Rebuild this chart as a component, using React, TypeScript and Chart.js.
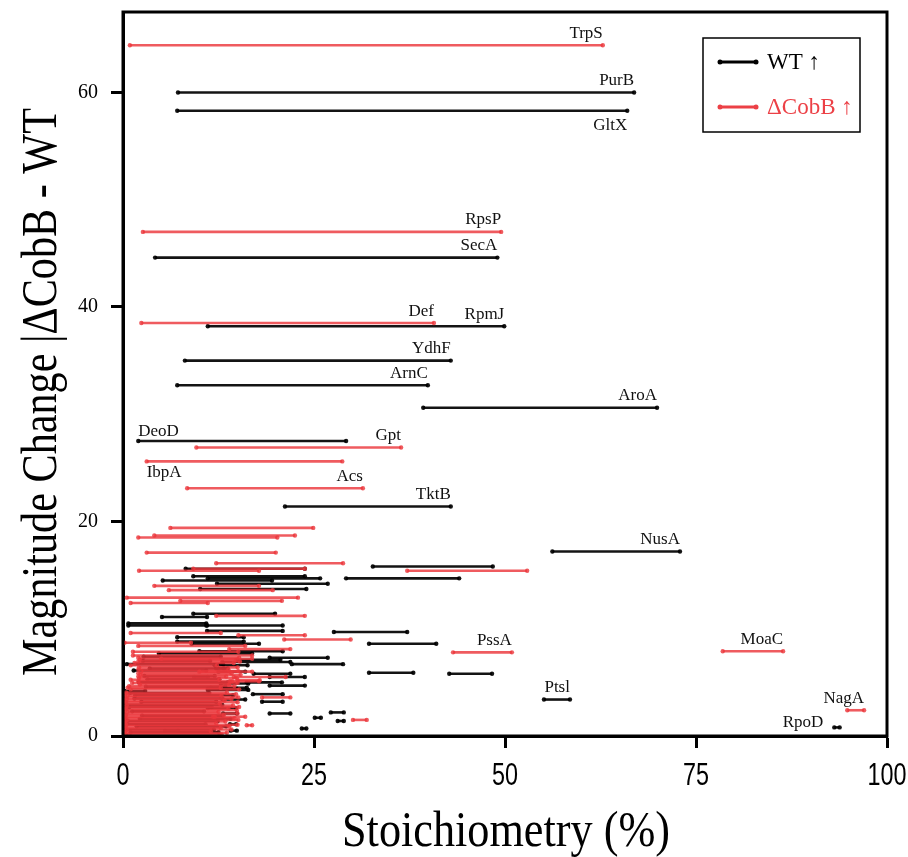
import React, { useEffect, useRef } from "react";
import { Chart, registerables } from "chart.js";

Chart.register(...registerables);

// WT ↑ segments (black): start %, end %, magnitude
const wtStart = [7.2, 7.1, 4.2, 11.1, 8.1, 7.1, 39.3, 2.0, 21.2, 56.2, 55.1, 93.1,
  8.2, 9.2, 11.1, 5.2, 12.3, 29.2, 32.7, 10.1, 9.2, 5.1, 0.7, 0.7, 11.0, 11.0, 27.6, 7.1, 7.1, 9.0,
  32.2, 10.0, 4.7, 19.2, 14.9, 22.1, 13.0, 42.7, 32.2, 17.1, 19.2, 16.2, 19.2, 11.1, 17.0, 18.2,
  19.2, 13.1, 27.2, 25.1, 28.1, 23.4, 0.2, 12.0, 9.3, 12.8, 11.1, 11.5, 13.1, 11.1, 5.5, 14.0, 14.1,
  12.2, 12.5, 1.0, 0.5, 2.5, 0.8, 1.5, 3.0, 2.8, 3.5, 2.6,
  0.4, 1.8, 0.6, 2.2, 1.2, 0.3, 2.4, 1.6, 0.9, 2.1, 3.2, 1.4, 0.5, 2.7];
const wtEnd = [66.9, 66.0, 49.0, 49.9, 42.9, 39.9, 69.9, 29.2, 42.9, 72.9, 58.5, 93.8,
  23.8, 23.8, 25.8, 19.5, 26.8, 44.0, 48.4, 24.0, 19.9, 11.0, 10.9, 10.9, 20.9, 20.9, 37.2, 15.8, 15.8, 17.8,
  41.0, 20.9, 16.9, 26.8, 20.6, 28.8, 21.9, 48.3, 38.0, 21.9, 23.8, 20.8, 23.8, 14.9, 20.9, 20.9,
  21.9, 14.9, 28.9, 25.9, 28.9, 24.0, 2.9, 16.3, 11.1, 16.4, 16.4, 16.2, 16.0, 14.8, 7.2, 14.8, 14.9,
  13.7, 16.0, 12.5, 10.8, 13.0, 11.6, 12.9, 13.4, 12.0, 13.2, 11.4,
  11.9, 13.5, 12.4, 14.1, 10.6, 13.0, 12.2, 14.4, 11.3, 13.7, 12.6, 10.9, 13.1, 12.8];
const wtValue = [60.0, 58.3, 44.6, 38.2, 35.0, 32.7, 30.6, 27.5, 21.4, 17.2, 3.4, 0.8,
  15.6, 14.9, 14.7, 14.5, 14.2, 14.7, 15.8, 13.7, 11.4, 11.1, 10.5, 10.3, 10.3, 9.8, 9.7, 9.2, 8.8, 8.6,
  8.6, 7.9, 7.7, 7.3, 7.1, 6.7, 6.9, 5.8, 5.9, 5.8, 5.5, 5.0, 4.7, 4.4, 3.9, 3.2,
  2.1, 2.1, 2.2, 1.7, 1.4, 0.7, 4.2, 6.6, 5.5, 4.9, 4.3, 4.5, 3.4, 2.6, 0.5, 1.1, 0.5,
  6.3, 6.0, 0.35, 1.1, 1.9, 2.7, 3.5, 4.6, 5.6, 6.3, 7.0,
  0.6, 0.9, 1.4, 1.6, 2.3, 2.9, 3.2, 3.8, 4.0, 5.0, 5.3, 6.1, 6.7, 7.4];
const wtNames = ["PurB", "GltX", "SecA", "RpmJ", "YdhF", "ArnC", "AroA", "DeoD", "TktB", "NusA", "Ptsl", "RpoD"];
const wtLabelPlace = ["above", "below", "above", "above", "above", "above", "above", "aboveLeft", "above", "above", "above", "left"];

// ΔCobB ↑ segments (red)
const koStart = [0.9, 2.6, 2.4, 9.6, 3.1, 8.4, 43.2, 78.5, 94.8,
  6.2, 4.1, 2.0, 3.1, 12.2, 9.2, 2.1, 37.2, 4.1, 6.0, 0.5, 7.5, 1.0, 12.2, 1.0, 15.1, 21.1, 0.2, 2.0,
  13.9, 1.3, 1.3, 1.0, 15.0, 14.5, 14.0, 18.2, 30.1, 12.0, 16.2, 10.0, 5.0,
  2.0, 2.2, 2.0, 1.5, 2.1, 2.0, 2.4, 2.0, 2.3, 2.0, 2.1, 1.0, 2.0, 1.2, 2.2, 0.8, 0.6, 1.0,
  0.4, 0.3, 0.6, 0.3, 0.5, 0.2, 0.4, 0.3, 0.5, 0.2, 0.4, 0.3, 0.6, 0.2, 0.4, 0.3, 0.2, 0.5,
  0.3, 0.2, 0.4, 0.3, 0.2, 0.5, 0.3, 0.2, 0.4];
const koEnd = [62.8, 49.5, 40.7, 36.4, 28.7, 31.4, 50.9, 86.4, 97.0,
  24.9, 22.5, 20.2, 20.0, 28.8, 23.8, 17.8, 52.9, 17.8, 19.6, 22.9, 20.8, 11.1, 23.8, 12.8, 23.8, 29.8, 8.9, 16.0,
  21.9, 15.1, 16.9, 12.3, 17.9, 21.3, 17.8, 21.9, 31.9, 16.0, 16.9, 16.9, 16.9,
  15.2, 14.8, 15.3, 14.5, 15.0, 13.8, 15.1, 14.2, 15.4, 13.5, 14.9, 12.6, 14.3, 15.0, 13.9, 14.6, 12.8, 15.2,
  13.6, 14.8, 12.9, 15.1, 14.2, 13.3, 15.0, 12.7, 14.4, 15.2, 13.8, 14.9, 12.5, 15.0, 13.2, 11.8, 14.6, 15.1,
  13.4, 12.2, 15.0, 13.9, 12.8, 14.2, 11.5, 13.6, 12.9];
const koValue = [64.4, 47.0, 38.5, 26.9, 25.6, 23.1, 7.8, 7.9, 2.4,
  19.4, 18.7, 18.5, 17.1, 16.1, 15.6, 15.4, 15.4, 14.0, 13.6, 12.9, 12.6, 12.4, 11.2, 9.6, 9.4, 9.0, 8.7, 8.4,
  8.1, 7.85, 7.5, 6.6, 5.2, 5.5, 5.1, 3.6, 1.5, 1.8, 1.0, 6.0, 7.2,
  7.3, 7.1, 6.95, 6.8, 6.4, 6.2, 6.05, 5.85, 5.7, 5.55, 5.4, 5.25, 5.1, 4.95, 4.8, 4.65, 4.5, 4.35,
  4.05, 3.9, 3.75, 3.6, 3.45, 3.3, 3.15, 3.0, 2.85, 2.7, 2.55, 2.4, 2.25, 2.1, 1.95, 1.8, 1.65, 1.5,
  1.35, 1.2, 1.05, 0.9, 0.75, 0.6, 0.45, 0.3, 0.15];
const koNames = ["TrpS", "RpsP", "Def", "Gpt", "IbpA", "Acs", "PssA", "MoaC", "NagA"];
const koLabelPlace = ["above", "above", "above", "above", "belowLeft", "above", "above", "above", "above"];

const xTicks = [0, 25, 50, 75, 100];
const yTicks = [0, 20, 40, 60];
const legendNames = ["WT \u2191", "\u0394CobB \u2191"];
const xTitle = "Stoichiometry (%)";
const yTitle = "Magnitude Change |\u0394CobB - WT";

const BLACK = "rgba(0,0,0,0.92)";
const RED = "rgba(235,55,60,0.82)";
const RED_TEXT = "rgb(236,64,70)";
const SERIF = "'Liberation Serif', 'Times New Roman', serif";
const SANS = "'Liberation Sans', Arial, sans-serif";

function seg(x1: number, x2: number, y: number, color: string) {
  return {
    data: [{ x: x1, y }, { x: x2, y }],
    showLine: true,
    borderColor: color,
    backgroundColor: color,
    borderWidth: 2.6,
    pointRadius: 2.2,
    pointBorderWidth: 0,
    pointHoverRadius: 2.2,
  };
}

const overlay = {
  id: "overlay",
  afterDraw(chart: any) {
    const { ctx, chartArea, scales } = chart;
    const { left, right, top, bottom } = chartArea;
    const xs = scales.x, ys = scales.y;
    ctx.save();
    ctx.strokeStyle = "#000";
    ctx.lineWidth = 3;
    ctx.strokeRect(left, top, right - left, bottom - top);

    // x tick labels (narrow sans)
    ctx.fillStyle = "#000";
    ctx.font = `32px ${SANS}`;
    ctx.textAlign = "center";
    ctx.textBaseline = "middle";
    xTicks.forEach((v) => {
      ctx.save();
      ctx.translate(xs.getPixelForValue(v), 776);
      ctx.scale(0.73, 1);
      ctx.fillText(String(v), 0, 0);
      ctx.restore();
    });

    ctx.font = `17px ${SERIF}`;
    ctx.fillStyle = "#111";
    const drawLabel = (name: string, place: string, x1: number, x2: number, y: number) => {
      const px1 = xs.getPixelForValue(x1);
      const px2 = xs.getPixelForValue(x2);
      const py = ys.getPixelForValue(y);
      ctx.textBaseline = "middle";
      if (place === "above") { ctx.textAlign = "right"; ctx.fillText(name, px2, py - 12); }
      else if (place === "below") { ctx.textAlign = "right"; ctx.fillText(name, px2, py + 15); }
      else if (place === "aboveLeft") { ctx.textAlign = "left"; ctx.fillText(name, px1, py - 10); }
      else if (place === "belowLeft") { ctx.textAlign = "left"; ctx.fillText(name, px1, py + 11); }
      else if (place === "left") { ctx.textAlign = "right"; ctx.fillText(name, px1 - 11, py - 5); }
    };
    wtNames.forEach((n, i) => drawLabel(n, wtLabelPlace[i], wtStart[i], wtEnd[i], wtValue[i]));
    koNames.forEach((n, i) => drawLabel(n, koLabelPlace[i], koStart[i], koEnd[i], koValue[i]));

    // legend
    ctx.lineWidth = 1.5;
    ctx.strokeStyle = "#000";
    ctx.strokeRect(703, 38, 157, 94);
    const items = [{ c: "#000", y: 62 }, { c: RED_TEXT, y: 107 }];
    items.forEach((it, i) => {
      ctx.strokeStyle = it.c;
      ctx.fillStyle = it.c;
      ctx.lineWidth = 3;
      ctx.beginPath(); ctx.moveTo(720, it.y); ctx.lineTo(756, it.y); ctx.stroke();
      ctx.beginPath(); ctx.arc(720, it.y, 2.5, 0, Math.PI * 2); ctx.fill();
      ctx.beginPath(); ctx.arc(756, it.y, 2.5, 0, Math.PI * 2); ctx.fill();
      ctx.font = `23px ${SERIF}`;
      ctx.textAlign = "left";
      ctx.textBaseline = "alphabetic";
      ctx.fillText(legendNames[i], 767, it.y + 7);
    });

    // axis titles (condensed serif)
    ctx.fillStyle = "#000";
    ctx.font = `50px ${SERIF}`;
    ctx.textAlign = "center";
    ctx.textBaseline = "alphabetic";
    let w = ctx.measureText(xTitle).width;
    ctx.save();
    ctx.translate(506, 846);
    ctx.scale(328 / w, 1);
    ctx.fillText(xTitle, 0, 0);
    ctx.restore();
    w = ctx.measureText(yTitle).width;
    ctx.save();
    ctx.translate(56, 392);
    ctx.rotate(-Math.PI / 2);
    ctx.scale(568 / w, 1);
    ctx.fillText(yTitle, 0, 0);
    ctx.restore();
    ctx.restore();
  },
};

export default function App() {
  const ref = useRef<HTMLCanvasElement | null>(null);
  useEffect(() => {
    document.body.style.margin = "0";
    const datasets: any[] = [];
    koStart.forEach((s, i) => datasets.push(seg(s, koEnd[i], koValue[i], RED)));
    wtStart.forEach((s, i) => datasets.push(seg(s, wtEnd[i], wtValue[i], BLACK)));
    const zeroPad = (s: any) => { s.paddingTop = 0; s.paddingBottom = 0; s.paddingLeft = 0; s.paddingRight = 0; };
    const chart = new Chart(ref.current as HTMLCanvasElement, {
      type: "scatter",
      data: { datasets },
      options: {
        animation: false,
        responsive: false,
        devicePixelRatio: 1,
        events: [],
        layout: { padding: { top: 12, right: 21, left: 0, bottom: 0 } },
        plugins: { legend: { display: false }, tooltip: { enabled: false } },
        scales: {
          x: {
            type: "linear",
            min: 0,
            max: 100,
            afterBuildTicks: (s: any) => { s.ticks = xTicks.map((v) => ({ value: v })); },
            afterFit: (s: any) => { s.height = 121; zeroPad(s); },
            ticks: { display: false },
            grid: { drawOnChartArea: false, drawTicks: true, tickLength: 12, tickWidth: 3, tickColor: "#000" },
            border: { display: true, width: 3, color: "#000" },
          },
          y: {
            type: "linear",
            min: 0,
            max: 67.5,
            afterBuildTicks: (s: any) => { s.ticks = yTicks.map((v) => ({ value: v })); },
            afterFit: (s: any) => { s.width = 123; zeroPad(s); },
            ticks: { color: "#000", padding: 13, font: { family: SERIF, size: 20 } },
            grid: { drawOnChartArea: false, drawTicks: true, tickLength: 12, tickWidth: 3, tickColor: "#000" },
            border: { display: true, width: 3, color: "#000" },
          },
        },
      },
      plugins: [overlay],
    });
    return () => chart.destroy();
  }, []);
  return (
    <div style={{ width: 908, height: 857 }}>
      <canvas ref={ref} width={908} height={857} style={{ display: "block" }} />
    </div>
  );
}
